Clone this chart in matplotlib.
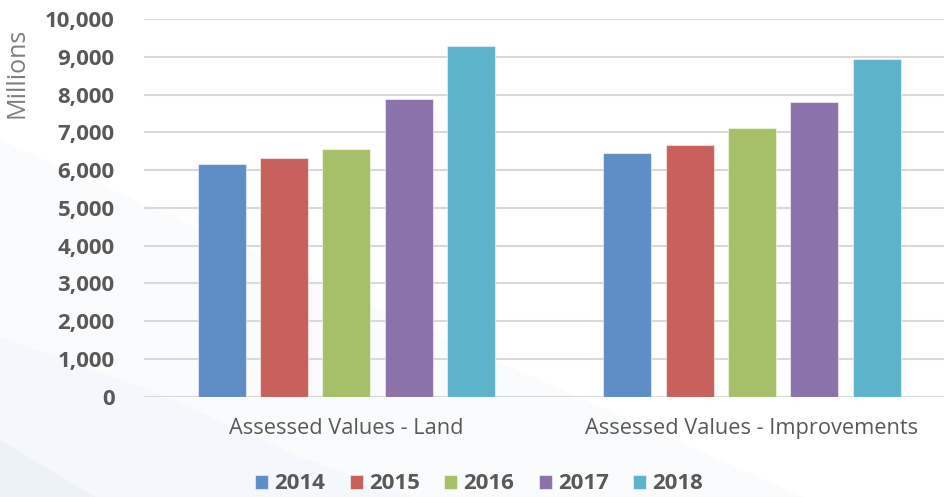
import matplotlib
matplotlib.use("Agg")
import matplotlib.pyplot as plt
import numpy as np
from matplotlib.patches import Polygon
from matplotlib.ticker import FuncFormatter

categories = ["Assessed Values - Land", "Assessed Values - Improvements"]
years = ["2014", "2015", "2016", "2017", "2018"]
values = {
    "2014": [6150, 6460],
    "2015": [6330, 6670],
    "2016": [6570, 7110],
    "2017": [7880, 7810],
    "2018": [9290, 8940],
}
colors = ["#5f8dc6", "#c8605b", "#a6c06a", "#8c72ab", "#5db3c9"]
yticks = list(range(0, 10001, 1000))

fig = plt.figure(figsize=(9.45, 4.97), dpi=100)
fig.patch.set_facecolor("white")

# subtle background shapes (pixel-like coords)
bg = fig.add_axes([0, 0, 1, 1], zorder=-10)
bg.set_xlim(0, 945); bg.set_ylim(497, 0); bg.axis("off")
bg.add_patch(Polygon([[0, 140], [945, 560], [0, 560]], closed=True, color="#fafbfc", lw=0))
bg.add_patch(Polygon([[0, 337], [150, 390], [300, 457], [420, 500], [0, 500]], closed=True, color="#f4f7fb", lw=0))
bg.add_patch(Polygon([[0, 440], [100, 500], [0, 500]], closed=True, color="#edf2f8", lw=0))

ax = fig.add_axes([0.1521, 0.2018, 0.8582, 0.760])
ax.patch.set_alpha(0)

x = np.arange(len(categories))
spacing = 0.1536
width = 0.1184
for i, (yr, c) in enumerate(zip(years, colors)):
    ax.bar(x + (i - 2) * spacing, values[yr], width=width, color=c,
           edgecolor=(1, 1, 1, 0.5), linewidth=0.8, label=yr, zorder=3)

ax.set_xlim(-0.5, 1.5)
ax.set_ylim(0, 10000)
ax.set_yticks(yticks)
ax.yaxis.set_major_formatter(FuncFormatter(lambda v, p: f"{int(v):,}"))
ax.grid(axis="y", color="#d9d9d9", linewidth=1.5, zorder=0)
for s in ax.spines.values():
    s.set_visible(False)
ax.tick_params(axis="y", length=0, pad=21, labelcolor="#595959")
ax.tick_params(axis="x", length=0, pad=15, labelcolor="#595959")
for lbl in ax.get_yticklabels():
    lbl.set_fontfamily("Open Sans")
    lbl.set_fontweight("bold")
    lbl.set_fontsize(16)
ax.set_xticks(x)
ax.set_xticklabels(categories, fontsize=15.7, family="Open Sans")
ax.set_ylabel("Millions", fontsize=18, color="#7f7f7f", family="Open Sans")
ax.yaxis.set_label_coords(-0.1406, 0.857)

leg = fig.legend(loc="lower center", bbox_to_anchor=(0.507, -0.035), ncol=5, frameon=False,
                 prop={"family": "Open Sans", "weight": "bold", "size": 16},
                 handlelength=0.59, handleheight=0.59, handletextpad=0.27, columnspacing=1.1)
for t in leg.get_texts():
    t.set_color("#595959")

fig.savefig("out.png", dpi=100, facecolor="white")
